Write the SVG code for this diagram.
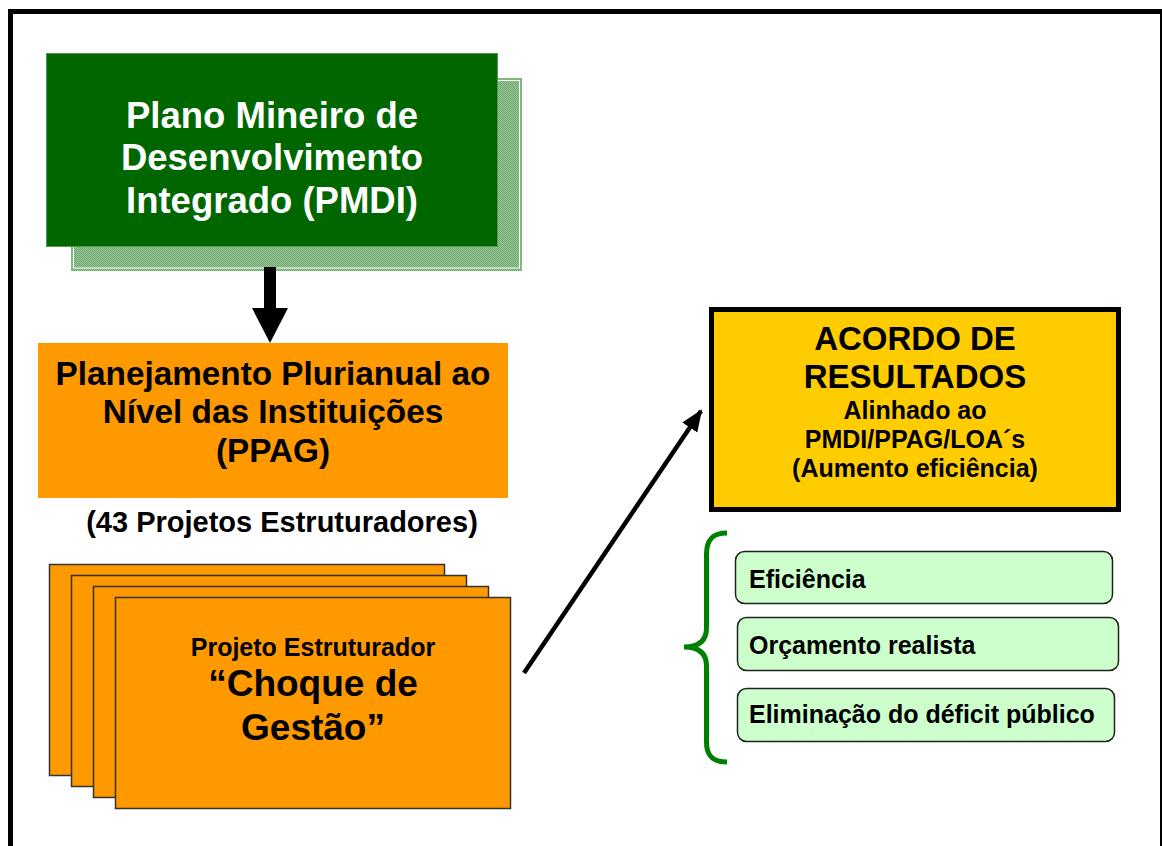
<svg xmlns="http://www.w3.org/2000/svg" width="1162" height="846" viewBox="0 0 1162 846">
<defs>
<style>
text { font-family: "Liberation Sans", Arial, sans-serif; font-weight: bold; }
.c { text-anchor: middle; }
.card { fill: #FF9900; stroke: #333333; stroke-width: 1.5; }
.pill { fill: #CCFFCC; stroke: #222222; stroke-width: 1.5; }
.pt { font-size: 25px; fill: #000; }
</style>
<pattern id="chk" width="2" height="2" patternUnits="userSpaceOnUse">
<rect width="2" height="2" fill="#93C493"/>
<rect width="1" height="1" fill="#72AA72"/>
<rect x="1" y="1" width="1" height="1" fill="#72AA72"/>
</pattern>
<marker id="ah" markerUnits="userSpaceOnUse" markerWidth="22" markerHeight="22" viewBox="0 0 22 22" refX="20" refY="11" orient="auto">
<path d="M0,2 L22,11 L0,20 Z" fill="#000"/>
</marker>
</defs>
<rect width="1162" height="846" fill="#FFFFFF"/>
<rect id="frame" x="10.5" y="11.5" width="1152" height="900" fill="none" stroke="#000" stroke-width="5"/>

<g id="pmdi">
<rect x="71" y="78" width="451" height="193" fill="url(#chk)"/>
<rect x="73.5" y="80.5" width="446" height="187.5" fill="none" stroke="#FFFFFF" stroke-width="1"/>
<rect x="46.5" y="53.5" width="451" height="193" fill="#006600" stroke="#4E9A4E" stroke-width="1"/>
<text class="c" x="272" y="128" font-size="36.5" fill="#FFFFFF">Plano Mineiro de</text>
<text class="c" x="272" y="170" font-size="36.5" fill="#FFFFFF">Desenvolvimento</text>
<text class="c" x="272" y="213" font-size="36.5" fill="#FFFFFF">Integrado (PMDI)</text>
</g>

<g id="ppag">
<rect x="38" y="343" width="470" height="155" fill="#FF9900"/>
<text class="c" x="273" y="385" font-size="33.3">Planejamento Plurianual ao</text>
<text class="c" x="273" y="423" font-size="33.3">Nível das Instituições</text>
<text class="c" x="273" y="462" font-size="33.3">(PPAG)</text>
</g>

<g id="projetos-label">
<text class="c" x="282" y="532" font-size="29">(43 Projetos Estruturadores)</text>
</g>

<g id="projeto-estruturador">
<rect class="card" x="49.5" y="564.5" width="395" height="211"/>
<rect class="card" x="71.5" y="575.5" width="395" height="211"/>
<rect class="card" x="93.5" y="586.5" width="395" height="211"/>
<rect class="card" x="115.5" y="597.5" width="395" height="211"/>
<text class="c" x="313" y="656" font-size="25">Projeto Estruturador</text>
<text class="c" x="313" y="696" font-size="37">“Choque de</text>
<text class="c" x="313" y="740" font-size="37">Gestão”</text>
</g>

<g id="acordo">
<rect x="711.5" y="309.5" width="407" height="200" fill="#FFCC00" stroke="#000" stroke-width="5"/>
<text class="c" x="915" y="350" font-size="33">ACORDO DE</text>
<text class="c" x="915" y="388" font-size="33">RESULTADOS</text>
<text class="c" x="915" y="419" font-size="25">Alinhado ao</text>
<text class="c" x="915" y="448" font-size="25">PMDI/PPAG/LOA´s</text>
<text class="c" x="915" y="477" font-size="25">(Aumento eficiência)</text>
</g>

<g id="eficiencia">
<rect class="pill" x="735.5" y="551.5" width="377" height="52" rx="9"/>
<text class="pt" x="749" y="588">Eficiência</text>
</g>
<g id="orcamento">
<rect class="pill" x="737.5" y="617.5" width="381" height="53" rx="9"/>
<text class="pt" x="749" y="654">Orçamento realista</text>
</g>
<g id="eliminacao">
<rect class="pill" x="737.5" y="688.5" width="377" height="53" rx="9"/>
<text class="pt" x="749" y="723">Eliminação do déficit público</text>
</g>

<g id="brace">
<path d="M727,533 C713,533 706.5,539 706.5,554 L706.5,628 C706.5,641 699,647 684,647 C699,647 706.5,653 706.5,666 L706.5,742 C706.5,756 713,762 727,762" fill="none" stroke="#008000" stroke-width="5"/>
</g>

<g id="connectors">
<rect x="264" y="267" width="12" height="42" fill="#000"/>
<polygon points="252,308 288,308 270,343" fill="#000"/>
<line x1="524" y1="673" x2="701" y2="411" stroke="#000" stroke-width="4.5" marker-end="url(#ah)"/>
</g>
</svg>
